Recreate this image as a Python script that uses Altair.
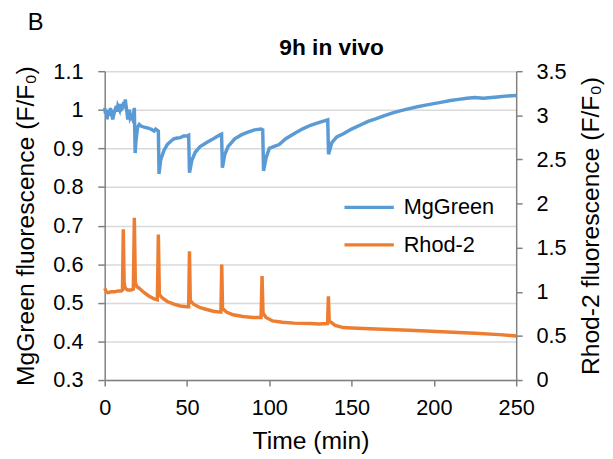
import altair as alt
import pandas as pd

# MgGreen (left axis, F/F0)
mg_time = [0, 0.5, 1, 1.5, 2, 3, 3.5, 4, 5, 5.5, 6, 7, 7.5, 8, 9, 9.5, 10, 11, 11.5, 12,
           12.5, 13, 13.5, 14, 14.5, 15, 15.5, 16, 17, 17.5, 18, 18.5, 19, 20, 21, 22, 24,
           26, 28, 30, 31, 32, 32.6, 33, 34, 36, 38, 40, 42, 44, 46, 48, 50, 51, 51.5, 53,
           55, 58, 60, 63, 66, 68, 70, 71, 71.5, 73, 75, 79, 83, 87, 91, 95, 96, 96.5, 98,
           100, 103, 106, 110, 115, 120, 125, 130, 134, 135.5, 136, 138, 141, 145, 150,
           155, 160, 165, 170, 175, 180, 185, 190, 195, 200, 205, 210, 215, 220, 225, 230,
           235, 240, 245, 250]
mg_value = [1.005, 0.99, 1.0, 0.975, 1.0, 0.985, 1.005, 0.99, 0.975, 1.0, 0.995, 1.01,
            0.995, 1.01, 1.0, 1.015, 1.0, 1.005, 1.02, 1.005, 1.027, 1.01, 0.995, 0.975,
            0.99, 1.0, 0.98, 0.985, 0.975, 0.99, 1.005, 0.888, 0.92, 0.955, 0.962, 0.958,
            0.955, 0.953, 0.95, 0.945, 0.95, 0.947, 0.945, 0.834, 0.87, 0.895, 0.91, 0.918,
            0.925, 0.927, 0.928, 0.932, 0.932, 0.934, 0.837, 0.87, 0.89, 0.905, 0.91, 0.918,
            0.925, 0.93, 0.935, 0.937, 0.85, 0.885, 0.905, 0.925, 0.935, 0.942, 0.948, 0.95,
            0.948, 0.842, 0.875, 0.9, 0.905, 0.91, 0.925, 0.938, 0.95, 0.96, 0.967, 0.972,
            0.974, 0.885, 0.915, 0.93, 0.938, 0.95, 0.96, 0.97, 0.977, 0.985, 0.992, 0.998,
            1.003, 1.008, 1.012, 1.016, 1.02, 1.024, 1.027, 1.03, 1.032, 1.03, 1.032, 1.034,
            1.036, 1.037]

# Rhod-2 (right axis, F/F0)
rh_time = [0, 1, 2, 4, 6, 8, 10, 10.8, 11.3, 11.8, 12.5, 14, 16, 17.4, 18, 18.6, 19.5, 21,
           24, 27, 30, 32, 32.6, 33.2, 35, 38, 42, 46, 50, 51, 51.5, 52, 54, 58, 62, 66, 70,
           70.6, 71.1, 71.6, 74, 78, 84, 90, 95, 95.6, 96.2, 98, 102, 108, 115, 125, 130,
           135.4, 135.9, 136.4, 140, 145, 150, 165, 185, 205, 225, 240, 250]
rh_value = [1.04, 1.0, 0.99, 1.0, 1.0, 1.01, 1.01, 1.02, 1.71, 1.1, 1.04, 1.02, 1.02, 1.03,
            1.84, 1.1, 1.06, 1.04, 0.99, 0.95, 0.92, 0.91, 1.65, 0.97, 0.93, 0.89, 0.86,
            0.84, 0.83, 0.83, 1.46, 0.9, 0.86, 0.82, 0.8, 0.78, 0.77, 0.77, 1.31, 0.81, 0.77,
            0.74, 0.72, 0.71, 0.71, 1.18, 0.76, 0.71, 0.67, 0.655, 0.645, 0.64, 0.635, 0.64,
            0.95, 0.67, 0.62, 0.595, 0.59, 0.578, 0.565, 0.548, 0.53, 0.515, 0.5]

series_names = ["MgGreen", "Rhod-2"]
series_colors = ["#5B9BD5", "#ED7D31"]
x_ticks = [0, 50, 100, 150, 200, 250]
left_ticks = [0.3, 0.4, 0.5, 0.6, 0.7, 0.8, 0.9, 1.0, 1.1]
right_ticks = [0, 0.5, 1, 1.5, 2, 2.5, 3, 3.5]
chart_title = "9h in vivo"
panel_label = "B"

df = pd.concat([
    pd.DataFrame({"time": mg_time, "value": mg_value, "series": "MgGreen"}),
    pd.DataFrame({"time": rh_time, "value": rh_value, "series": "Rhod-2"}),
])

FONT = "Liberation Sans"
AX = "#808080"

x_enc = alt.X("time:Q", scale=alt.Scale(domain=[0, 250], nice=False),
              axis=alt.Axis(values=x_ticks, title="Time (min)", grid=False, labelFlush=False,
                            tickSize=6, labelPadding=12, titlePadding=10))

color_enc = alt.Color("series:N",
                      scale=alt.Scale(domain=series_names, range=series_colors),
                      legend=alt.Legend(title=None, orient="none", legendX=241, legendY=111,
                                        symbolType="stroke", symbolSize=2500,
                                        symbolStrokeWidth=3.5, labelFontSize=22,
                                        labelFont=FONT, labelOffset=8, rowPadding=-13))

base = alt.Chart(df)

left = base.transform_filter(alt.datum.series == "MgGreen").mark_line(strokeWidth=3.5).encode(
    x=x_enc,
    y=alt.Y("value:Q", scale=alt.Scale(domain=[0.3, 1.1], nice=False, zero=False),
            axis=alt.Axis(values=left_ticks, format=".1~f", grid=True,
                          title="MgGreen fluorescence (F/F₀)", tickSize=7,
                          labelPadding=15, titlePadding=15)),
    color=color_enc,
    order="time:Q",
)

right = base.transform_filter(alt.datum.series == "Rhod-2").mark_line(strokeWidth=3.5).encode(
    x=x_enc,
    y=alt.Y("value:Q", scale=alt.Scale(domain=[0, 3.5], nice=False),
            axis=alt.Axis(values=right_ticks, format="~g", grid=False, orient="right",
                          title="Rhod-2 fluorescence (F/F₀)", tickSize=6, titleAngle=270,
                          titleBaseline="top", labelPadding=14, titlePadding=13)),
    color=color_enc,
    order="time:Q",
)

label_b = alt.Chart(pd.DataFrame({"t": [panel_label]})).mark_text(
    font=FONT, fontSize=24, align="left", baseline="top", color="black"
).encode(x=alt.value(-78), y=alt.value(-61), text="t:N")

title_t = alt.Chart(pd.DataFrame({"t": [chart_title]})).mark_text(
    font=FONT, fontSize=23, fontWeight="bold", align="center", baseline="middle", color="black"
).encode(x=alt.value(230), y=alt.value(-23), text="t:N")

chart = alt.layer(left, right, label_b, title_t).resolve_scale(y="independent").properties(
    width=417, height=313,
    autosize=alt.AutoSizeParams(type="none"),
    padding={"left": 98, "top": 61, "right": 90, "bottom": 80},
).configure_view(stroke=None).configure_axis(
    labelFont=FONT, titleFont=FONT, labelFontSize=22, titleFontSize=25,
    labelColor="black", titleColor="black", titleFontWeight="normal",
    domainColor=AX, tickColor=AX, domainWidth=1.5, tickWidth=1.5,
    gridColor="#D9D9D9", gridWidth=1.5,
)

chart.save("out.html", embed_options={"renderer": "svg", "actions": False})
